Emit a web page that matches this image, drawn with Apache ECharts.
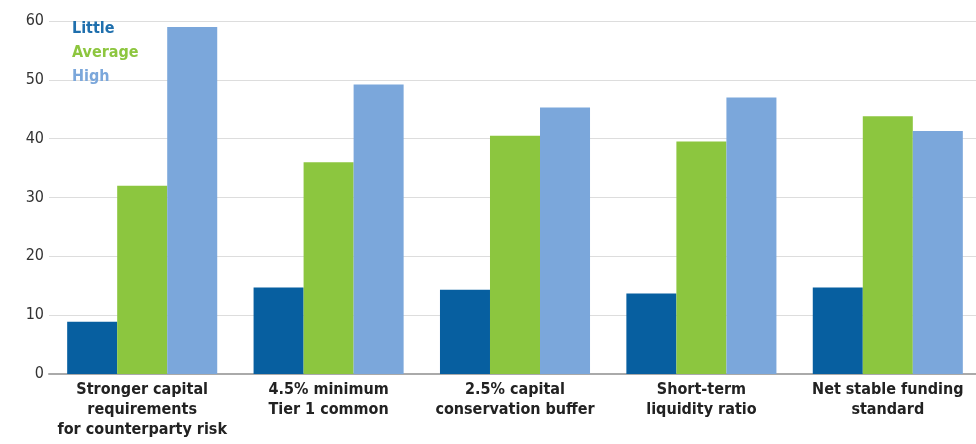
<!DOCTYPE html>
<html><head><meta charset="utf-8">
<script src="https://cdn.jsdelivr.net/npm/echarts@6/dist/echarts.min.js"></script>
<style>html,body{margin:0;padding:0;background:#fff}#c{width:976px;height:444px}</style>
</head><body><div id="c"></div>
<script>
const categories = ["Stronger capital\nrequirements\nfor counterparty risk","4.5% minimum\nTier 1 common","2.5% capital\nconservation buffer","Short-term\nliquidity ratio","Net stable funding\nstandard"];
const little = [8.9, 14.7, 14.3, 13.7, 14.7];
const average = [32.0, 36.0, 40.5, 39.5, 43.8];
const high = [59.0, 49.2, 45.3, 47.0, 41.3];
const yTicks = [0, 10, 20, 30, 40, 50, 60];
const colors = {Little:"#075fa0", Average:"#8cc63f", High:"#7ba7db"};
const legendColors = {Little:"#1f6fad", Average:"#8dc63f", High:"#7ba7db"};
const condensed = "'DejaVu Sans Condensed', 'DejaVu Sans', sans-serif";

const chart = echarts.init(document.getElementById('c'));
const mk = (name, data) => ({name, type:'bar', data, itemStyle:{color:colors[name]}, barGap:'0%', barCategoryGap:'19.5%'});
chart.setOption({
  animation:false,
  grid:{left:49, width:932, top:21, bottom:70, outerBoundsMode:'none', containLabel:false},
  legend:{
    orient:'vertical', left:62, top:16, itemWidth:0, itemHeight:0, itemGap:8, icon:'rect',
    selectedMode:false,
    data:['Little','Average','High'].map(n=>({name:n, textStyle:{color:legendColors[n]}})),
    textStyle:{fontFamily:condensed, fontWeight:'bold', fontSize:16}
  },
  xAxis:{type:'category', data:categories,
    axisLine:{lineStyle:{color:'#aaaaaa', width:2}}, axisTick:{show:false},
    axisLabel:{interval:0, color:'#222', fontFamily:condensed, fontWeight:'bold', fontSize:16, lineHeight:20, margin:6}},
  yAxis:{type:'value', min:0, max:60, interval:10,
    axisLine:{show:false}, axisTick:{show:false},
    splitLine:{lineStyle:{color:'#dddddd', width:1}},
    axisLabel:{color:'#333', fontFamily:condensed, fontSize:16, margin:5,
      formatter:v=>yTicks.includes(v)?String(v):''}},
  series:[mk('Little', little), mk('Average', average), mk('High', high)]
});
</script></body></html>
